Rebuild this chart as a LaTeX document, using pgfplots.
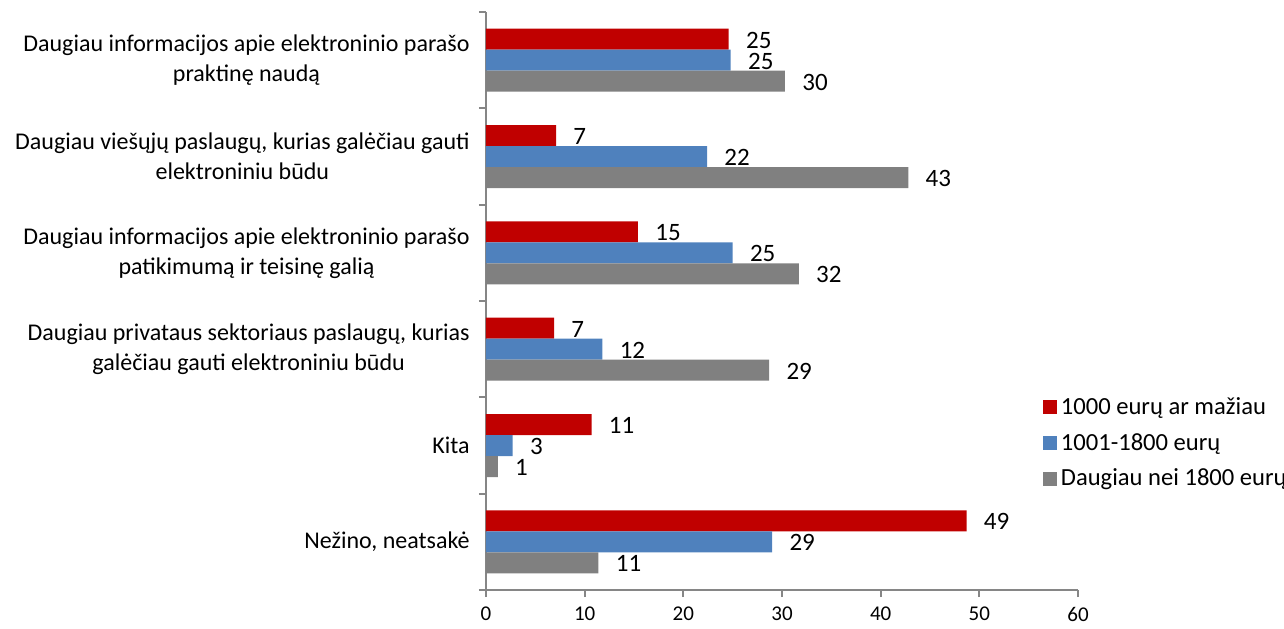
\documentclass[border=0pt]{standalone}
\usepackage{fontspec}
\setmainfont{Carlito}
\usepackage{pgfplots}
\pgfplotsset{compat=1.18}

\definecolor{cred}{HTML}{C00000}
\definecolor{cblue}{HTML}{4F81BD}
\definecolor{cgray}{HTML}{808080}
\definecolor{axgray}{HTML}{868686}

\begin{document}
\begin{tikzpicture}
\begin{axis}[
    name=ax,
    xbar,
    scale only axis,
    width=296pt,
    height=289pt,
    xmin=0, xmax=60,
    ymin=-0.5, ymax=5.5,
    xtick={0,10,...,60},
    ytick={-0.5,0.5,...,5.5},
    yticklabel=\empty,
    extra y ticks={0,1,2,3,4,5},
    extra y tick labels={
        {Nežino, neatsakė},
        {Kita},
        {Daugiau privataus sektoriaus paslaugų, kurias\\galėčiau gauti elektroniniu būdu},
        {Daugiau informacijos apie elektroninio parašo\\patikimumą ir teisinę galią},
        {Daugiau viešųjų paslaugų, kurias galėčiau gauti\\elektroniniu būdu},
        {Daugiau informacijos apie elektroninio parašo\\praktinę naudą}},
    extra y tick style={major tick length=0pt,
        yticklabel style={font=\fontsize{12}{15}\selectfont, align=center, inner sep=0pt, xshift=-8pt}},
    axis x line*=bottom,
    axis y line*=left,
    axis line style={-, draw=axgray, line width=0.9pt},
    tick style={draw=axgray, line width=0.9pt},
    tick align=outside,
    major tick length=3.5pt,
    xticklabel style={font=\fontsize{10.5}{12}\selectfont, yshift=-1.5pt},
    /pgf/number format/assume math mode=true,
    bar width=10.5pt,
    point meta=x,
    nodes near coords={\pgfmathprintnumber[fixed,precision=0]{\pgfplotspointmeta}},
    nodes near coords style={font=\fontsize{12.5}{15}\selectfont, anchor=west, inner sep=0pt, xshift=8.5pt, yshift=-0.5pt},
    clip=false,
    legend style={at={(0.940,0.341)}, anchor=north west, draw=none, fill=none,
        font=\fontsize{12.3}{14}\selectfont, row sep=4pt, inner sep=0pt},
    legend cell align=left,
    legend image code/.code={\fill[#1] (0pt,-3.5pt) rectangle (7pt,3.5pt);},
]
\addplot[fill=cred, draw=none, bar shift=10.5pt] coordinates {
    (48.7,0) (10.7,1) (6.9,2) (15.4,3) (7.1,4) (24.6,5)};
\addplot[fill=cblue, draw=none, bar shift=0pt] coordinates {
    (29.0,0) (2.7,1) (11.8,2) (25.0,3) (22.4,4) (24.8,5)};
\addplot[fill=cgray, draw=none, bar shift=-10.5pt] coordinates {
    (11.4,0) (1.2,1) (28.7,2) (31.7,3) (42.8,4) (30.3,5)};
\legend{1000 eurų ar mažiau, 1001-1800 eurų, Daugiau nei 1800 eurų}
\end{axis}
\pgfresetboundingbox
\path ([shift={(-243pt,-19pt)}]ax.south west) rectangle ([shift={(399pt,295pt)}]ax.south west);
\end{tikzpicture}
\end{document}
